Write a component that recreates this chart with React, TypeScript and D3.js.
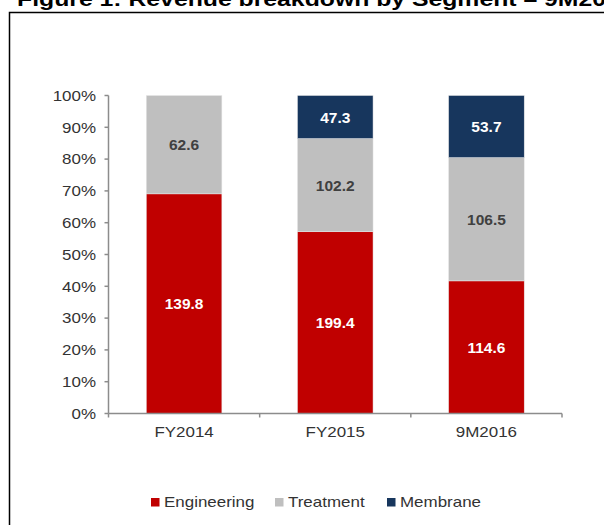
import React from "react";
import * as d3 from "d3";

const categories = ["FY2014", "FY2015", "9M2016"];
const seriesNames = ["Engineering", "Treatment", "Membrane"];
const engineering = [139.8, 199.4, 114.6];
const treatment = [62.6, 102.2, 106.5];
const membrane = [0, 47.3, 53.7];
const yTickValues = [0, 0.1, 0.2, 0.3, 0.4, 0.5, 0.6, 0.7, 0.8, 0.9, 1.0];
const titleText = "Figure 1: Revenue breakdown by Segment – 9M2016";

const colors = ["#C00000", "#BFBFBF", "#17365D"];
const labelColors = ["#FFFFFF", "#404040", "#FFFFFF"];
const FONT = "'Liberation Sans', Arial, Helvetica, sans-serif";

function Txt({ x, y, sx = 1, anchor = "start", children, ...rest }: any) {
  return (
    <text
      transform={`translate(${x},${y}) scale(${sx},1)`}
      textAnchor={anchor}
      fontFamily={FONT}
      {...rest}
    >
      {children}
    </text>
  );
}

export default function App() {
  const W = 604;
  const H = 525;
  const left = 108.5;
  const right = 562;
  const top = 95.5;
  const bottom = 413.5;

  const rows = categories.map((c, i) => ({
    cat: c,
    Engineering: engineering[i],
    Treatment: treatment[i],
    Membrane: membrane[i],
  }));
  const stack = d3.stack<any>().keys(seriesNames).offset(d3.stackOffsetExpand);
  const stacked = stack(rows);

  const x = d3.scaleBand<string>().domain(categories).range([left, right]).padding(0);
  const y = d3.scaleLinear().domain([0, 1]).range([bottom, top]);
  const bw = x.bandwidth() * 0.5;
  const fmtPct = d3.format(".0%");
  const axisColor = "#8C8C8C";
  const textColor = "#333333";
  const sx = 1.13;

  const legendX = [151, 275, 387];

  return (
    <div style={{ position: "absolute", left: 0, top: 0 }}>
      <svg width={W} height={H} style={{ display: "block", background: "#fff" }}>
        <rect x={0} y={0} width={W} height={H} fill="#fff" />
        {/* title (clipped at top, as in the reference) */}
        <Txt x={17} y={5.5} sx={1.18} fontSize={21} fontWeight="bold" fill="#000">
          {titleText}
        </Txt>
        {/* frame */}
        <rect x={9.5} y={12.5} width={W + 20} height={H + 20} fill="none" stroke="#000" strokeWidth={1.5} />

        {/* bars */}
        {stacked.map((layer, si) =>
          layer.map((d, ci) => {
            const v = [engineering, treatment, membrane][si][ci];
            if (!v) return null;
            const cx = (x(categories[ci]) as number) + x.bandwidth() / 2;
            const y0 = y(d[1]);
            const y1 = y(d[0]);
            return (
              <g key={`${si}-${ci}`}>
                <rect
                  x={cx - bw / 2}
                  y={y0}
                  width={bw}
                  height={y1 - y0}
                  fill={colors[si]}
                  stroke="#E8E8E8"
                  strokeWidth={0.5}
                />
                <text
                  x={cx}
                  y={(y0 + y1) / 2}
                  dy="0.36em"
                  textAnchor="middle"
                  fontFamily={FONT}
                  fontSize={15.5}
                  fontWeight="bold"
                  fill={labelColors[si]}
                >
                  {d3.format(".1f")(v)}
                </text>
              </g>
            );
          })
        )}

        {/* y axis */}
        <line x1={left} x2={left} y1={top} y2={bottom} stroke={axisColor} strokeWidth={1.5} />
        {yTickValues.map((t) => (
          <g key={t}>
            <line x1={left - 4} x2={left} y1={y(t)} y2={y(t)} stroke={axisColor} strokeWidth={1.5} />
            <Txt x={96} y={y(t) + 5.2} sx={sx} anchor="end" fontSize={15} fill={textColor}>
              {fmtPct(t)}
            </Txt>
          </g>
        ))}

        {/* x axis */}
        <line x1={left} x2={right} y1={bottom} y2={bottom} stroke={axisColor} strokeWidth={1.5} />
        {[...categories.map((c) => x(c) as number), right].map((px, i) => (
          <line key={i} x1={px} x2={px} y1={bottom} y2={bottom + 4} stroke={axisColor} strokeWidth={1.5} />
        ))}
        {categories.map((c) => (
          <Txt
            key={c}
            x={(x(c) as number) + x.bandwidth() / 2}
            y={437}
            sx={sx}
            anchor="middle"
            fontSize={15}
            fill={textColor}
          >
            {c}
          </Txt>
        ))}

        {/* legend */}
        {seriesNames.map((s, i) => (
          <g key={s}>
            <rect x={legendX[i]} y={498} width={8.5} height={8.5} fill={colors[i]} />
            <Txt x={legendX[i] + 13} y={506.5} sx={sx} fontSize={15} fill={textColor}>
              {s}
            </Txt>
          </g>
        ))}
      </svg>
    </div>
  );
}
